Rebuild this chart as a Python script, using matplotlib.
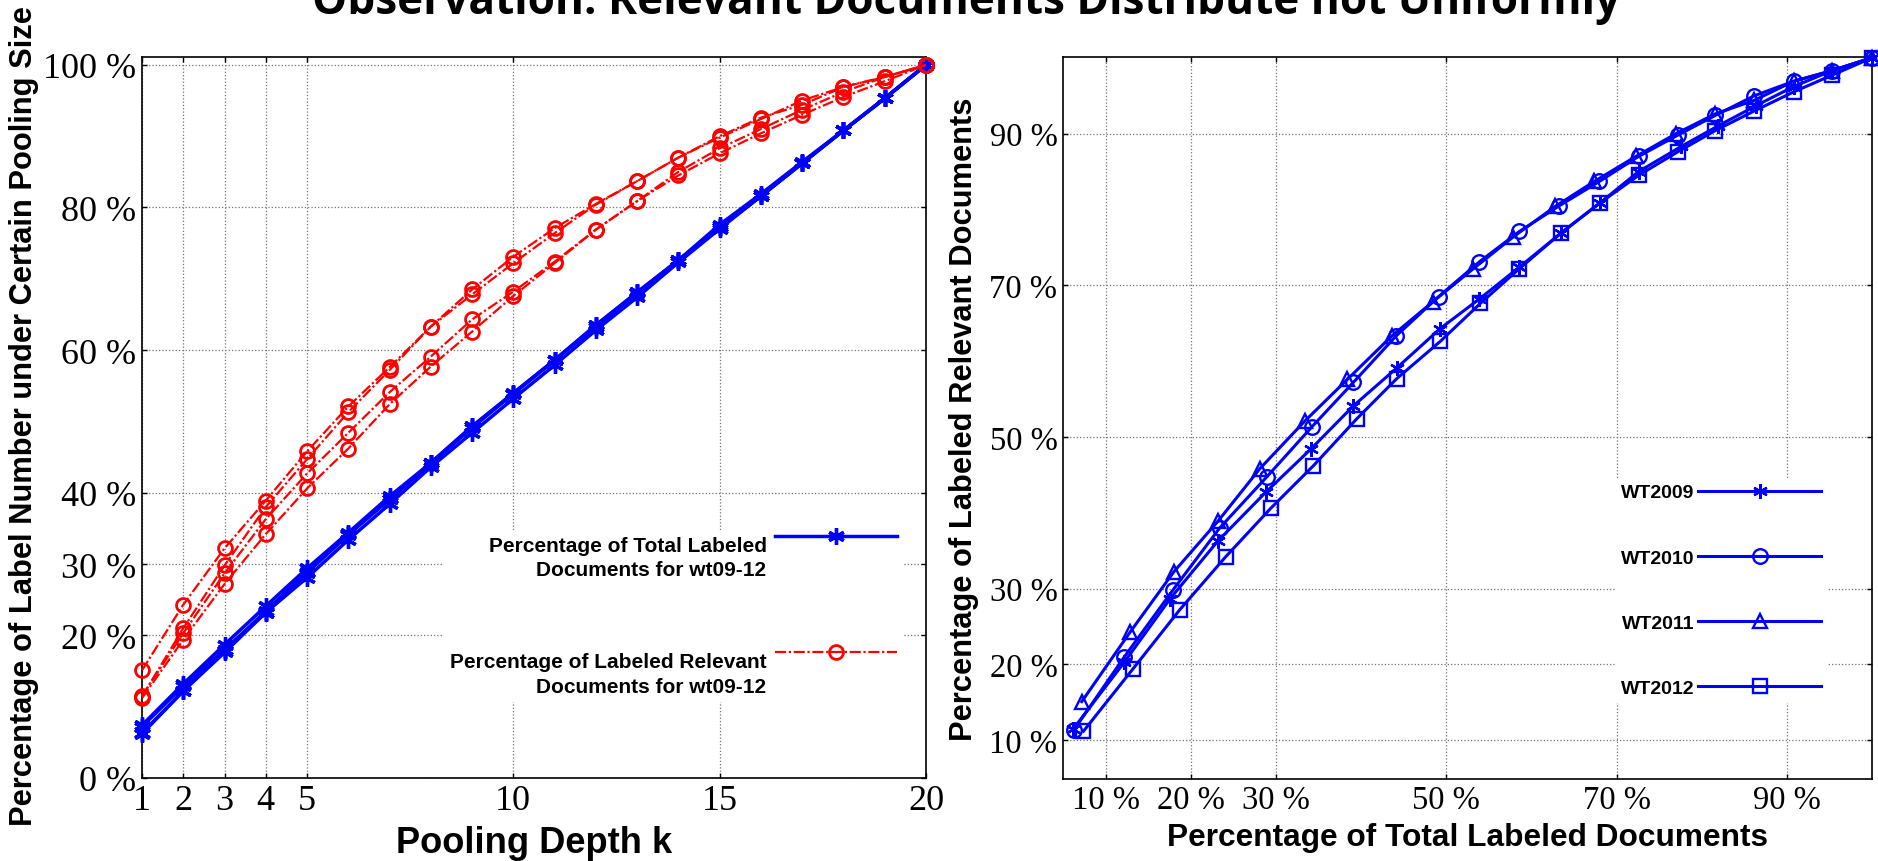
import numpy as np
import matplotlib
matplotlib.use('Agg')
import matplotlib.pyplot as plt
from matplotlib.lines import Line2D
from matplotlib.legend_handler import HandlerLine2D
from matplotlib.ticker import FixedLocator, FuncFormatter

plt.rcParams['font.family'] = ['Liberation Sans', 'DejaVu Sans']

# pooling depth k = 1..20
depth = list(range(1, 21))
years = ['WT2009', 'WT2010', 'WT2011', 'WT2012']

# % of total labeled documents at depth k
total_wt09 = [6.2, 12.2, 17.6, 23.2, 28.8, 34.1, 39.1, 44.2, 49.3, 53.9, 58.6, 63.5, 68.1, 72.6, 77.6, 81.9, 86.4, 90.8, 95.3, 100]
total_wt10 = [6.3, 12.2, 17.9, 23.4, 28.9, 34.2, 39.1, 44.1, 49.1, 53.9, 58.6, 63.3, 68.0, 72.6, 77.2, 81.6, 86.2, 90.8, 95.3, 100]
total_wt11 = [7.2, 12.9, 18.0, 23.2, 28.1, 33.4, 38.4, 43.6, 48.4, 53.2, 57.9, 62.8, 67.4, 72.3, 77.0, 81.6, 86.2, 90.8, 95.3, 100]
total_wt12 = [7.4, 13.2, 18.7, 24.1, 29.4, 34.4, 39.5, 44.2, 49.3, 54.0, 58.6, 63.5, 68.1, 72.6, 77.2, 81.6, 86.2, 90.8, 95.3, 100]

# % of labeled relevant documents at depth k
rel_wt09 = [11.5, 20.3, 28.7, 36.3, 42.7, 48.4, 54.1, 59.1, 64.3, 68.2, 72.4, 76.9, 80.9, 85.0, 88.3, 91.0, 93.7, 96.2, 98.3, 100]
rel_wt10 = [11.4, 21.0, 29.8, 38.0, 44.7, 51.3, 57.2, 63.3, 68.5, 73.1, 77.1, 80.5, 83.7, 87.0, 89.8, 92.4, 95.0, 96.9, 98.3, 100]
rel_wt11 = [15.1, 24.3, 32.2, 38.9, 45.8, 52.1, 57.6, 63.3, 67.8, 72.2, 76.4, 80.4, 83.7, 87.0, 90.0, 92.6, 94.4, 96.9, 98.3, 100]
rel_wt12 = [11.2, 19.4, 27.2, 34.2, 40.6, 46.2, 52.4, 57.7, 62.6, 67.6, 72.2, 76.9, 80.9, 84.5, 87.6, 90.4, 93.0, 95.5, 97.7, 100]

totals = [total_wt09, total_wt10, total_wt11, total_wt12]
rels = [rel_wt09, rel_wt10, rel_wt11, rel_wt12]

left_xticks = [1, 2, 3, 4, 5, 10, 15, 20]
left_yticks = [0, 20, 30, 40, 60, 80, 100]
right_ticks = [10, 20, 30, 50, 70, 90]

asterisk = (6, 2, 0)
right_markers = [asterisk, 'o', '^', 's']
red_dash = (0, (5, 1.2, 1, 1.2))


class FirstLineHandler(HandlerLine2D):
    # put the legend key level with the first line of a two-line label
    def __init__(self, lift, **kw):
        super().__init__(**kw)
        self.lift = lift

    def create_artists(self, *args, **kwargs):
        arts = super().create_artists(*args, **kwargs)
        for a in arts:
            a.set_ydata(np.asarray(a.get_ydata()) + self.lift)
        return arts


W, H = 1878, 862
fig = plt.figure(figsize=(W / 100, H / 100), dpi=100)
ax1 = fig.add_axes([142 / W, 1 - 779 / H, 784 / W, 721 / H])
ax2 = fig.add_axes([1063 / W, 1 - 780 / H, 809 / W, 722 / H])

pct = FuncFormatter(lambda v, p: f'{v:.0f} %')

# ---- left: share vs pooling depth
blue_style = dict(color='blue', lw=2.5, marker=asterisk, ms=12, mew=2.4)
red_style = dict(color='red', lw=1.6, ls=red_dash, marker='o', ms=10, mfc='none', mew=2)
for tot in totals:
    ax1.plot(depth, tot, clip_on=False, zorder=3, **blue_style)
for rel in rels:
    ax1.plot(depth, rel, clip_on=False, zorder=3, **red_style)

ax1.set_xlim(1, 20)
ax1.set_ylim(0, 101.1)
ax1.xaxis.set_major_locator(FixedLocator(left_xticks))
ax1.yaxis.set_major_locator(FixedLocator(left_yticks))
ax1.yaxis.set_major_formatter(pct)
for lab in ax1.get_xticklabels() + ax1.get_yticklabels():
    lab.set_family('Liberation Serif')
    lab.set_fontsize(26)

ax1.set_xlabel('Pooling Depth k', fontweight='bold', fontsize=25, va='baseline')
ax1.xaxis.set_label_coords(0.5, (779 - 853) / 721)
ax1.set_ylabel('Percentage of Label Number under Certain Pooling Size', fontweight='bold',
               fontsize=24, ha='center', va='center')
ax1.yaxis.set_label_coords((24 - 142) / 784, (779 - 416) / 721)

h_total = Line2D([], [], **blue_style)
h_rel = Line2D([], [], **red_style)
leg1 = ax1.legend([h_total, h_rel],
                  ['Percentage of Total Labeled\nDocuments for wt09-12',
                   'Percentage of Labeled Relevant\nDocuments for wt09-12'],
                  loc='upper right', bbox_to_anchor=(0.9707, 0.344), borderaxespad=0,
                  borderpad=0.3, markerfirst=False, numpoints=1, handlelength=5.85,
                  handletextpad=0.4, labelspacing=3.5, fancybox=False, framealpha=1,
                  edgecolor='none', prop={'weight': 'bold', 'size': 15},
                  handler_map={Line2D: FirstLineHandler(15.8)})
for t in leg1.get_texts():
    t.set_multialignment('right')
    t.set_linespacing(1.35)

# ---- right: relevant share vs total share
for tot, rel, mk, name in zip(totals, rels, right_markers, years):
    ax2.plot(tot, rel, color='blue', lw=2.2, marker=mk, ms=10.5, mfc='none', mew=1.7,
             clip_on=False, label=name, zorder=3)

ax2.set_xlim(5, 100)
ax2.set_ylim(4.9, 100.1)
ax2.xaxis.set_major_locator(FixedLocator(right_ticks))
ax2.yaxis.set_major_locator(FixedLocator(right_ticks))
ax2.xaxis.set_major_formatter(pct)
ax2.yaxis.set_major_formatter(pct)
for lab in ax2.get_xticklabels() + ax2.get_yticklabels():
    lab.set_family('Liberation Serif')
    lab.set_fontsize(23.5)

ax2.set_xlabel('Percentage of Total Labeled Documents', fontweight='bold', fontsize=22, va='baseline')
ax2.xaxis.set_label_coords(0.5, (780 - 846) / 722)
ax2.set_ylabel('Percentage of Labeled Relevant Documents', fontweight='bold', fontsize=24,
               ha='center', va='center')
ax2.yaxis.set_label_coords((964 - 1063) / 809, (780 - 419.5) / 722)

ax2.legend(loc='upper right', bbox_to_anchor=(0.944, 0.417), borderaxespad=0, borderpad=0.3,
           markerfirst=False, numpoints=1, handlelength=6.3, handletextpad=0.2,
           labelspacing=2.45, fancybox=False, framealpha=1, edgecolor='none',
           prop={'weight': 'bold', 'size': 14})

for ax in (ax1, ax2):
    ax.grid(True, color='0.45', ls=':', lw=0.9)
    ax.set_axisbelow(True)
    ax.tick_params(direction='in', length=3.6, width=1, top=True, right=True, pad=4)
    for s in ax.spines.values():
        s.set_linewidth(1.2)

title = fig.text(966 / W, 1 - 14 / H, 'Observation: Relevant Documents Distribute not Uniformly',
                 ha='center', va='baseline', fontweight='bold', fontsize=28,
                 family=['Open Sans', 'DejaVu Sans'])

# scale the big texts to the lengths they have in the source picture
fig.canvas.draw()
renderer = fig.canvas.get_renderer()
fits = [(title, 1305, False), (ax1.xaxis.label, 276, False), (ax2.xaxis.label, 601, False),
        (ax1.yaxis.label, 823, True), (ax2.yaxis.label, 645, True)]
for txt, target, vertical in fits:
    bb = txt.get_window_extent(renderer)
    cur = bb.height if vertical else bb.width
    txt.set_fontsize(txt.get_fontsize() * target / cur)

fig.savefig('out.png', dpi=100)
